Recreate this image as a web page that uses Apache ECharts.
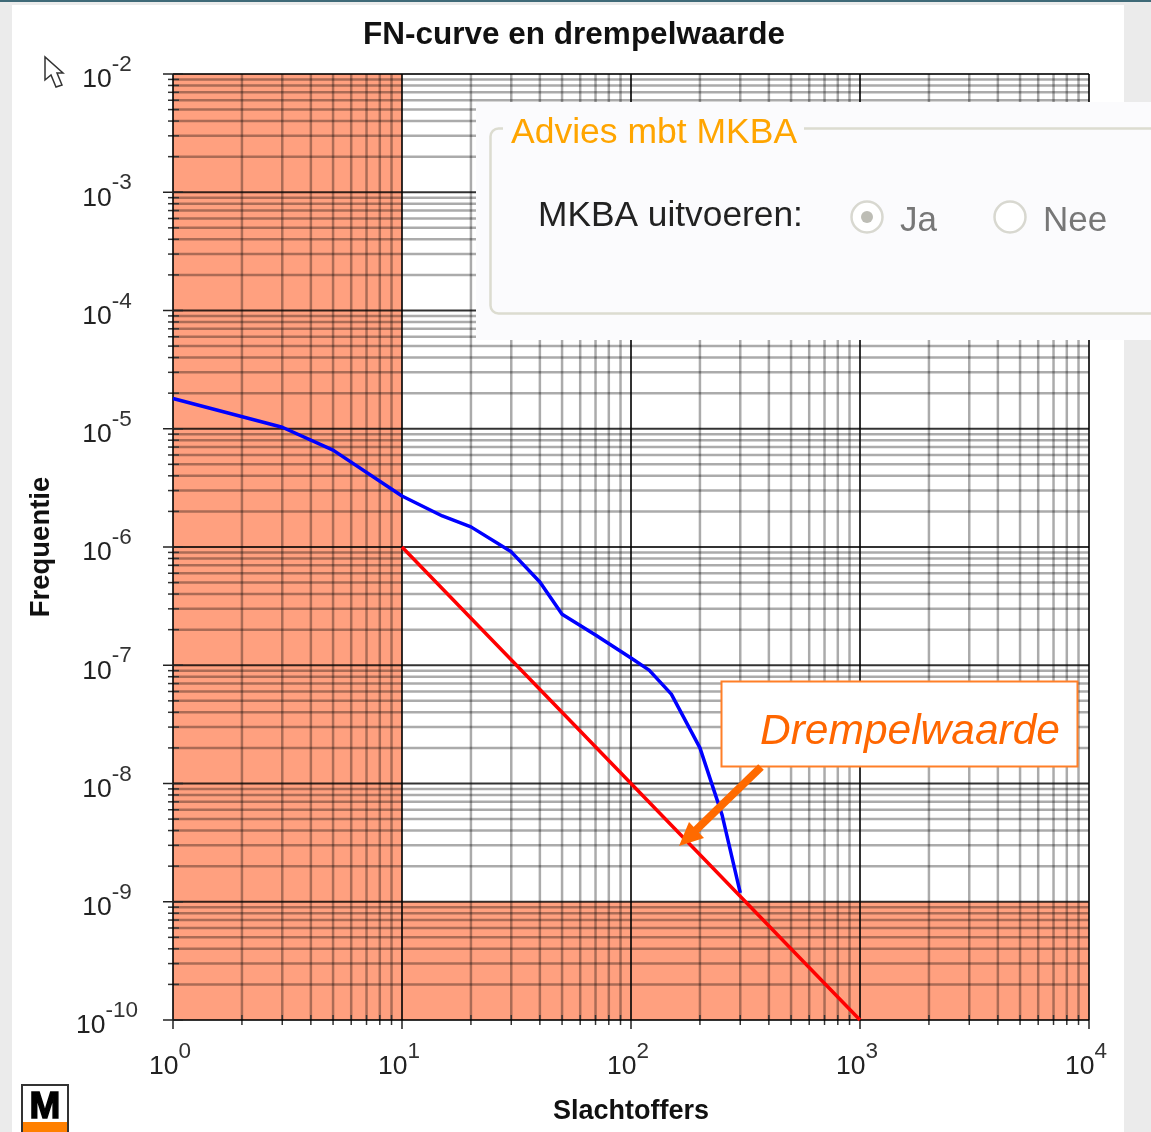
<!DOCTYPE html>
<html><head><meta charset="utf-8">
<style>html,body{margin:0;padding:0;background:#ebebeb}#c{width:1151px;height:1132px;filter:blur(0.4px)}</style>
<script src="https://cdn.jsdelivr.net/npm/echarts@6/dist/echarts.min.js"></script>
</head><body><div id="c"></div>
<script>
const chartTitle = 'FN-curve en drempelwaarde';
const xName = 'Slachtoffers';
const yName = 'Frequentie';
const xDecades = [1, 10, 100, 1000, 10000];
const yDecades = [1e-10, 1e-9, 1e-8, 1e-7, 1e-6, 1e-5, 1e-4, 1e-3, 1e-2];
const minorMultipliers = [2, 3, 4, 5, 6, 7, 8, 9];
const fnCurve = [[1,1.8e-5],[3,1.03e-5],[5,6.6e-6],[10,2.7e-6],[15,1.83e-6],[20,1.48e-6],[30,9.1e-7],[40,5.06e-7],[50,2.7e-7],[70,1.8e-7],[100,1.15e-7],[120,9.1e-8],[150,5.7e-8],[200,2.0e-8],[250,5.4e-9],[300,1.19e-9]];
const thresholdLine = [[10,1e-6],[100,1e-8],[1000,1e-10]];
const riskZones = [[1,1e-10,10,1e-2],[10,1e-10,10000,1e-9]];
const xMin = 1, xMax = 10000, yMin = 1e-10, yMax = 1e-2;

const SANS = '"Liberation Sans", Arial, sans-serif';
const xMajor = xDecades.map(d => [d, yMin]);
const yMajor = yDecades.map(d => [xMin, d]);
const xMinor = [], yMinor = [];
xDecades.forEach(d => { if (d < xMax) minorMultipliers.forEach(m => xMinor.push([d * m, yMin])); });
yDecades.forEach(d => { if (d < yMax) minorMultipliers.forEach(m => yMinor.push([xMin, d * m])); });
const seg = (x1, y1, x2, y2, stroke, lineWidth) => ({
  type: 'line', shape: {x1, y1, x2, y2}, style: {stroke, lineWidth}
});
const MAJOR = 'rgba(0,0,0,0.8)', MINOR = 'rgba(0,0,0,0.33)';
const renderV = major => (params, api) => {
  const x = api.value(0);
  const a = api.coord([x, yMin]), b = api.coord([x, yMax]);
  return {type: 'group', children: [
    seg(a[0], a[1], b[0], b[1], major ? MAJOR : MINOR, major ? 2 : 2.5),
    major ? seg(a[0], a[1], a[0], a[1] + 9, '#222', 1.5) : seg(a[0], a[1] - 5, a[0], a[1] + 5, '#333', 1.5)
  ]};
};
const renderH = major => (params, api) => {
  const y = api.value(1);
  const a = api.coord([xMin, y]), b = api.coord([xMax, y]);
  return {type: 'group', children: [
    seg(a[0], a[1], b[0], b[1], major ? MAJOR : MINOR, major ? 2 : 2.5),
    major ? seg(a[0] - 10, a[1], a[0] + 10, a[1], '#222', 1.5) : seg(a[0] - 5, a[1], a[0] + 6, a[1], '#333', 1.5)
  ]};
};
function renderZone(params, api) {
  const a = api.coord([api.value(0), api.value(1)]);
  const b = api.coord([api.value(2), api.value(3)]);
  return {type: 'rect', shape: {x: a[0], y: b[1], width: b[0] - a[0], height: a[1] - b[1]}, style: {fill: '#ffa07f'}};
}
const expFmt = v => '{b|10}{e|' + Math.round(Math.log10(v)) + '}';
const labelRich = {
  b: {fontFamily: SANS, fontSize: 26.5, color: '#222'},
  e: {fontFamily: SANS, fontSize: 22.5, color: '#333', padding: [0, 0, 30, 0]}
};
const logAxis = (min, max) => ({
  type: 'log', logBase: 10, min, max,
  splitLine: {show: false}, minorTick: {show: false}, minorSplitLine: {show: false},
  axisTick: {show: false},
  axisLine: {show: false}
});
const panelBg = '#fbfbfd';
const g = [
  {type: 'rect', z: -10, shape: {x: 12, y: 5, width: 1112, height: 1127}, style: {fill: '#fff'}},
  {type: 'rect', z: -10, shape: {x: 0, y: 0, width: 1151, height: 2}, style: {fill: '#3f6a78'}},
  {type: 'rect', z: 50, shape: {x: 476, y: 102, width: 675, height: 238}, style: {fill: panelBg}},
  {type: 'rect', z: 51, shape: {x: 490.5, y: 128.5, width: 700, height: 185, r: 8}, style: {fill: 'none', stroke: '#dcdcd0', lineWidth: 2.5}},
  {type: 'rect', z: 52, shape: {x: 503, y: 115, width: 301, height: 30}, style: {fill: panelBg}},
  {type: 'text', z: 53, x: 511, y: 133, style: {text: 'Advies mbt MKBA', font: '35.5px ' + SANS, fill: '#ffa500', textVerticalAlign: 'middle'}},
  {type: 'text', z: 53, x: 538, y: 216, style: {text: 'MKBA uitvoeren:', font: '35.3px ' + SANS, fill: '#222', textVerticalAlign: 'middle'}},
  {type: 'circle', z: 53, shape: {cx: 867, cy: 217, r: 15.5}, style: {fill: '#fff', stroke: '#d8d8d0', lineWidth: 2.5}},
  {type: 'circle', z: 54, shape: {cx: 867, cy: 217, r: 6}, style: {fill: '#bdbdb5'}},
  {type: 'text', z: 53, x: 900, y: 221, style: {text: 'Ja', font: '35px ' + SANS, fill: '#777', textVerticalAlign: 'middle'}},
  {type: 'circle', z: 53, shape: {cx: 1010, cy: 217, r: 15.5}, style: {fill: '#fff', stroke: '#d8d8d0', lineWidth: 2.5}},
  {type: 'text', z: 53, x: 1043, y: 221, style: {text: 'Nee', font: '35px ' + SANS, fill: '#777', textVerticalAlign: 'middle'}},
  {type: 'rect', z: 60, shape: {x: 721.5, y: 681.5, width: 356, height: 85}, style: {fill: '#fff', stroke: '#ff7f27', lineWidth: 2}},
  {type: 'text', z: 61, x: 760, y: 732, style: {text: 'Drempelwaarde', font: 'italic 42.5px ' + SANS, fill: '#ff6600', textVerticalAlign: 'middle'}},
  {type: 'line', z: 61, shape: {x1: 761, y1: 767, x2: 695, y2: 831}, style: {stroke: '#ff6a00', lineWidth: 8}},
  {type: 'polygon', z: 61, shape: {points: [[679, 846], [689, 822], [704, 838]]}, style: {fill: '#ff6a00'}},
  {type: 'polygon', z: 70, shape: {points: [[45, 57], [45, 80], [51, 75], [56, 87], [62, 85], [57, 73], [63, 73]]}, style: {fill: '#fff', stroke: '#333', lineWidth: 1.5}},
  {type: 'rect', z: 70, shape: {x: 22, y: 1085, width: 46, height: 47}, style: {fill: '#fff', stroke: '#333', lineWidth: 2}},
  {type: 'rect', z: 71, shape: {x: 23, y: 1122, width: 44, height: 10}, style: {fill: '#ff8000'}},
  {type: 'text', z: 71, x: 45, y: 1108, style: {text: 'M', font: 'bold 37px ' + SANS, fill: '#000', stroke: '#000', lineWidth: 1.5, textAlign: 'center', textVerticalAlign: 'middle'}}
];
const option = {
  animation: false,
  backgroundColor: 'transparent',
  title: {text: chartTitle, left: 569, top: 14, textAlign: 'center',
    textStyle: {fontFamily: SANS, fontWeight: 'bold', fontSize: 31.5, color: '#111'}},
  grid: {left: 173, top: 74, width: 916, height: 946},
  xAxis: Object.assign(logAxis(xMin, xMax), {
    name: xName, nameLocation: 'middle', nameGap: 78,
    nameTextStyle: {fontFamily: SANS, fontWeight: 'bold', fontSize: 27, color: '#111'},
    axisLabel: {show: true, formatter: expFmt, rich: labelRich, margin: 20, padding: [0, 6, 0, 0], showMinLabel: true, showMaxLabel: true}
  }),
  yAxis: Object.assign(logAxis(yMin, yMax), {
    name: yName, nameLocation: 'middle', nameGap: 118, nameRotate: 90,
    nameTextStyle: {fontFamily: SANS, fontWeight: 'bold', fontSize: 27.5, color: '#111'},
    axisLabel: {show: true, formatter: expFmt, rich: labelRich, margin: 66, align: 'center', padding: [12, 0, 0, 0], showMinLabel: true, showMaxLabel: true}
  }),
  graphic: g,
  series: [
    {type: 'custom', name: 'zones', z: 1, renderItem: renderZone, data: riskZones, encode: {x: [0, 2], y: [1, 3]}, silent: true},
    {type: 'custom', name: 'vMinor', z: 2, renderItem: renderV(false), data: xMinor, encode: {x: 0, y: 1}, silent: true},
    {type: 'custom', name: 'hMinor', z: 2, renderItem: renderH(false), data: yMinor, encode: {x: 0, y: 1}, silent: true},
    {type: 'custom', name: 'vMajor', z: 3, renderItem: renderV(true), data: xMajor, encode: {x: 0, y: 1}, silent: true},
    {type: 'custom', name: 'hMajor', z: 3, renderItem: renderH(true), data: yMajor, encode: {x: 0, y: 1}, silent: true},
    {type: 'line', name: 'FN-curve', z: 5, data: fnCurve, showSymbol: false, lineStyle: {color: '#0000ff', width: 3.5}, itemStyle: {color: '#0000ff'}},
    {type: 'line', name: 'Drempelwaarde', z: 5, data: thresholdLine, showSymbol: false, lineStyle: {color: '#ff0000', width: 3.5}, itemStyle: {color: '#ff0000'}}
  ]
};
echarts.init(document.getElementById('c'), null, {renderer: 'canvas'}).setOption(option);
</script></body></html>
